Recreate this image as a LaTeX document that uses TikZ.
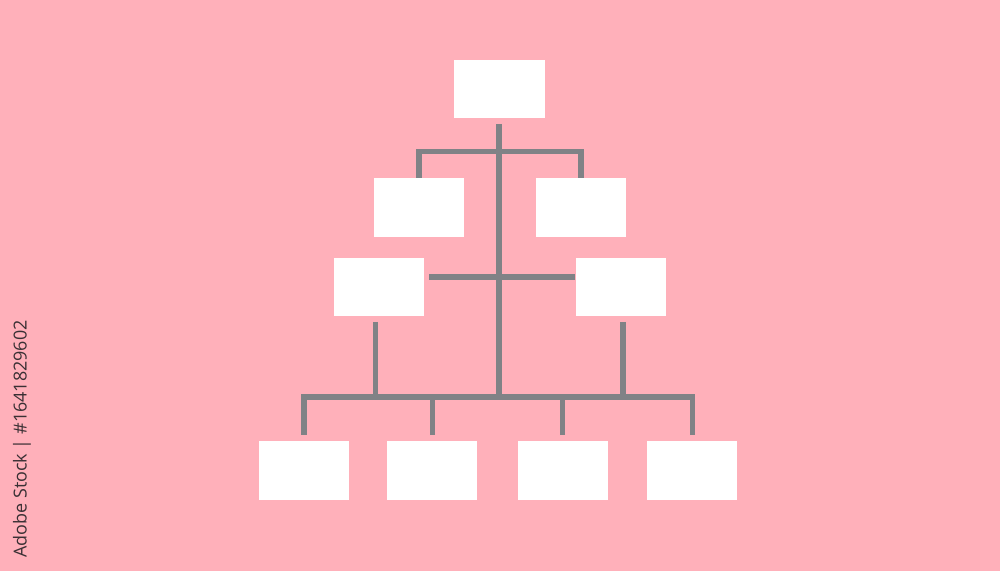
\documentclass[tikz,border=0pt]{standalone}
\usepackage{fontspec}
\usepackage{tikz}
\usetikzlibrary{positioning, calc}
\newfontfamily\stampfont{Open Sans}
\definecolor{pageColor}{RGB}{255, 176, 186}
\definecolor{linkColor}{RGB}{128, 130, 134}
\definecolor{boxFill}{RGB}{255, 255, 255}
\definecolor{stampColor}{RGB}{58, 48, 52}
\tikzset{
    org_box/.style={
        rectangle,
        draw=none,
        fill=boxFill,
        minimum width=0.9cm,
        minimum height=0.585cm,
        inner sep=0pt
    },
    org_link/.style={
        draw=linkColor,
        line width=1.5pt
    },
    stamp_text/.style={
        text=stampColor,
        font=\stampfont\fontsize{5.1}{6}\selectfont,
        rotate=90,
        inner sep=0pt
    }
}
\begin{document}
\begin{tikzpicture}
        % background and picture size
        \fill[pageColor] (0,0) rectangle (10,5.71);
        \useasboundingbox (0,0) rectangle (10,5.71);

        % boxes
        \node[org_box, minimum width=0.91cm] (top) at (4.99,4.82) {};
        \node[org_box] (midLeft) at (4.19,3.635) {};
        \node[org_box] (midRight) at (5.81,3.635) {};
        \node[org_box] (lowLeft) at (3.785,2.84) {};
        \node[org_box] (lowRight) at (6.21,2.84) {};
        \node[org_box] (leafA) at (3.04,1.005) {};
        \node[org_box, right=0.37cm of leafA] (leafB) {};
        \node[org_box, right=0.39cm of leafB] (leafC) {};
        \node[org_box, right=0.38cm of leafC] (leafD) {};

        \coordinate (bus) at (5.0,1.74);

        % trunk and upper branch
        \draw[org_link, shorten <=0.05cm] (top.south) -- (top.south |- bus);
        \draw[org_link] (midLeft.north) -- ++(0,0.26) -| (midRight.north);

        % middle bar
        \draw[org_link] ([yshift=1mm]lowRight.west) -- ([xshift=0.5mm, yshift=1mm]lowLeft.east);

        % drops to the bus
        \draw[org_link, shorten <=0.05cm] ([xshift=-0.3mm]lowLeft.south) -- ([xshift=-0.3mm]lowLeft.south |- bus);
        \draw[org_link, shorten <=0.05cm] ([xshift=0.2mm]lowRight.south) -- ([xshift=0.2mm]lowRight.south |- bus);

        % bus and leaves
        \draw[org_link, shorten <=0.06cm, shorten >=0.06cm]
            (leafA.north) |- (bus) -| (leafD.north);
        \draw[org_link, shorten <=0.06cm] (leafB.north) -- (leafB.north |- bus);
        \draw[org_link, shorten <=0.06cm] (leafC.north) -- (leafC.north |- bus);

        \node[stamp_text] (stamp) at (0.22,1.32) {Adobe Stock | \#1641829602};
    \end{tikzpicture}
\end{document}
